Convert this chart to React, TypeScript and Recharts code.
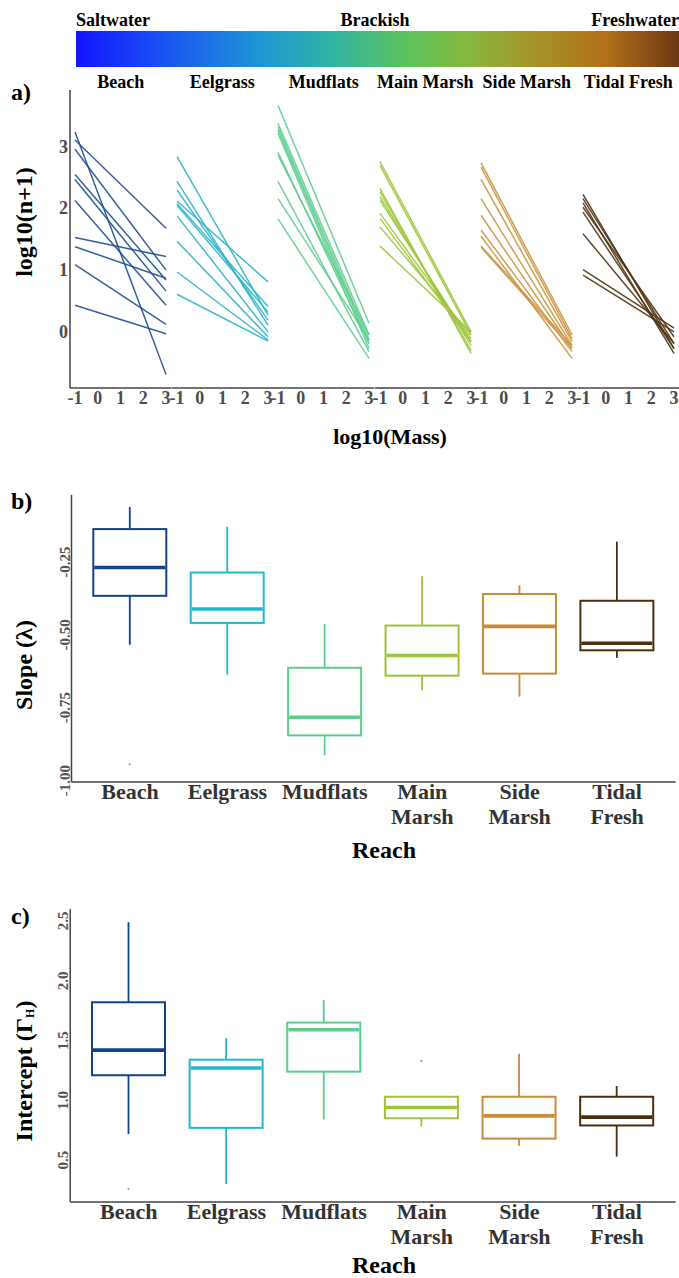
import React from 'react';
import { LineChart, Line, XAxis, YAxis, ComposedChart, Bar } from 'recharts';

const reaches = ['Beach', 'Eelgrass', 'Mudflats', 'Main Marsh', 'Side Marsh', 'Tidal Fresh'];

// panel a: fitted lines, log10(n+1) read at log10(Mass) = -1 and = 3
const massTicks = [-1, 0, 1, 2, 3];
const countTicks = [0, 1, 2, 3];
const beachStart = [3.24, 3.11, 2.96, 2.55, 2.47, 2.13, 1.53, 1.38, 1.09, 0.43];
const beachEnd = [-0.69, 1.68, 1.0, 0.84, 0.66, 0.43, 1.22, 0.87, 0.12, -0.03];
const eelgrassStart = [2.84, 2.44, 2.3, 2.12, 2.08, 2.05, 1.88, 1.47, 0.97, 0.61];
const eelgrassEnd = [0.27, 0.11, 0.19, 0.81, 0.41, 0.32, 0.0, -0.08, -0.13, -0.15];
const mudflatsStart = [3.67, 3.38, 3.32, 3.27, 3.22, 2.91, 2.86, 2.44, 2.16, 1.83];
const mudflatsEnd = [0.14, -0.05, -0.13, -0.19, -0.27, -0.19, -0.05, -0.32, -0.13, -0.43];
const mainMarshStart = [2.76, 2.7, 2.32, 2.27, 2.19, 2.13, 1.92, 1.84, 1.7, 1.39];
const mainMarshEnd = [0.0, -0.05, -0.35, -0.3, -0.22, -0.16, -0.11, -0.16, -0.05, 0.0];
const sideMarshStart = [2.74, 2.67, 2.47, 2.16, 1.89, 1.65, 1.55, 1.39, 1.37];
const sideMarshEnd = [-0.05, -0.11, -0.16, -0.22, -0.27, -0.32, -0.43, -0.22, -0.27];
const tidalStart = [2.23, 2.16, 2.09, 2.02, 1.94, 1.59, 1.01, 0.92];
const tidalEnd = [-0.27, -0.19, -0.35, -0.08, -0.27, -0.19, 0.06, 0.0];

const lineStarts = [beachStart, eelgrassStart, mudflatsStart, mainMarshStart, sideMarshStart, tidalStart];
const lineEnds = [beachEnd, eelgrassEnd, mudflatsEnd, mainMarshEnd, sideMarshEnd, tidalEnd];

// panel b: slope boxplots
const slopeTicks = [-1, -0.75, -0.5, -0.25];
const slopeLow = [-0.534, -0.636, -0.913, -0.69, -0.712, -0.579];
const slopeQ1 = [-0.366, -0.459, -0.845, -0.64, -0.633, -0.553];
const slopeMed = [-0.269, -0.411, -0.783, -0.571, -0.471, -0.529];
const slopeQ3 = [-0.137, -0.286, -0.613, -0.468, -0.36, -0.383];
const slopeHigh = [-0.061, -0.129, -0.462, -0.299, -0.33, -0.18];
const slopeOut = [-0.944, null, null, null, null, null];

// panel c: intercept boxplots
const interTicks = [0.5, 1, 1.5, 2, 2.5];
const interLow = [0.72, 0.3, 0.84, 0.78, 0.62, 0.53];
const interQ1 = [1.21, 0.77, 1.24, 0.85, 0.68, 0.79];
const interMed = [1.42, 1.27, 1.59, 0.94, 0.87, 0.86];
const interQ3 = [1.82, 1.34, 1.65, 1.03, 1.03, 1.03];
const interHigh = [2.49, 1.52, 1.84, 1.03, 1.39, 1.12];
const interOut = [0.26, null, null, 1.33, null, null];

const lineColors = ['#214f8e', '#2fb4c6', '#5fce91', '#9fc63e', '#cc9440', '#4f3414'];
const boxColors = ['#12428a', '#22b9cc', '#5ccd8c', '#9cc43a', '#c98a3a', '#4a2e0e'];
const AXIS = '#444';
const FONT = '"Liberation Serif", "Times New Roman", serif';

const slopeRows = reaches.map((reach, i) => ({
  reach, low: slopeLow[i], q1: slopeQ1[i], med: slopeMed[i], q3: slopeQ3[i], high: slopeHigh[i], out: slopeOut[i],
}));
const interRows = reaches.map((reach, i) => ({
  reach, low: interLow[i], q1: interQ1[i], med: interMed[i], q3: interQ3[i], high: interHigh[i], out: interOut[i],
}));

const Txt = ({ x, y, size, anchor = 'start', fill = '#000', rotate = false, children }: any) => (
  <text
    transform={rotate ? `translate(${x},${y}) rotate(-90)` : `translate(${x},${y})`}
    textAnchor={anchor}
    fontSize={size}
    fontWeight="bold"
    fontFamily={FONT}
    fill={fill}
  >
    {children}
  </text>
);

const MassTick = (p: any) => (
  <Txt x={p.x} y={p.y + 16} size={18} anchor="middle" fill="#4d4d4d">{p.payload.value}</Txt>
);
const CountTick = (p: any) => (
  <Txt x={p.x - 2} y={p.y + 6} size={18} anchor="end" fill="#4d4d4d">{p.payload.value}</Txt>
);
const ReachTick = (p: any) => (
  <g>
    {String(p.payload.value).split(' ').map((w, k) => (
      <Txt key={k} x={p.x} y={p.y + 17 + k * 25} size={22} anchor="middle" fill="#333">{w}</Txt>
    ))}
  </g>
);
const rotTick = (digits: number) => (p: any) => (
  <Txt x={p.x - 2} y={p.y} size={15} anchor="middle" fill="#555" rotate>{Number(p.payload.value).toFixed(digits)}</Txt>
);

function Facet({ i }: { i: number }) {
  const first = i === 0;
  const left = first ? 0 : 70 + i * 101.5;
  const width = first ? 171.5 : 101.5;
  return (
    <div style={{ position: 'absolute', left, top: 90 }}>
      <LineChart width={width} height={328} margin={{ top: 0, right: 0, bottom: 0, left: 0 }}>
        <XAxis
          type="number"
          dataKey="x"
          domain={[-1.22, 3.24]}
          ticks={massTicks}
          interval={0}
          allowDataOverflow
          tickLine={false}
          tickSize={0}
          tickMargin={0}
          height={30}
          tick={MassTick}
          axisLine={{ stroke: AXIS, strokeWidth: 1.5 }}
        />
        <YAxis
          hide={!first}
          type="number"
          width={70}
          domain={[-0.91, 3.92]}
          ticks={countTicks}
          allowDataOverflow
          tickLine={false}
          tickSize={0}
          tickMargin={0}
          tick={CountTick}
          axisLine={{ stroke: AXIS, strokeWidth: 1.5 }}
        />
        {lineStarts[i].map((s, k) => (
          <Line
            key={k}
            data={[{ x: -1, y: s }, { x: 3, y: lineEnds[i][k] }]}
            dataKey="y"
            stroke={lineColors[i]}
            strokeOpacity={0.9}
            strokeWidth={1.5}
            dot={false}
            isAnimationActive={false}
          />
        ))}
      </LineChart>
    </div>
  );
}

const boxShape = (p: any) => {
  const top = Math.min(p.y, p.y + p.height);
  return (
    <rect x={p.x} y={top} width={p.width} height={Math.abs(p.height)} fill="none" stroke={boxColors[p.index]} strokeWidth={2} />
  );
};
const whiskerShape = (p: any) => {
  const cx = p.x + p.width / 2;
  return <line x1={cx} x2={cx} y1={p.y} y2={p.y + p.height} stroke={boxColors[p.index]} strokeWidth={1.8} />;
};
const medianShape = (p: any) => (
  <line x1={p.x + 1} x2={p.x + p.width - 1} y1={p.y} y2={p.y} stroke={boxColors[p.index]} strokeWidth={3.6} />
);
const outlierShape = (p: any) =>
  p.payload.out == null ? <g /> : <circle cx={p.x + p.width / 2} cy={p.y} r={1.1} fill="#9a9a9a" />;

const axisIds = ['box', 'wlo', 'whi', 'med', 'out'];

function BoxPanel({ top, rows, domain, ticks, digits, plotH, yWidth }: any) {
  return (
    <div style={{ position: 'absolute', left: 0, top }}>
      <ComposedChart width={679} height={plotH + 60} data={rows} margin={{ top: 0, right: 3.4, bottom: 0, left: 0 }}>
        {axisIds.map((id, k) => (
          <XAxis
            key={id}
            xAxisId={id}
            type="category"
            dataKey="reach"
            hide={k > 0}
            padding={{ left: 9.8, right: 9.8 }}
            interval={0}
            height={60}
            tickLine={false}
            tickSize={0}
            tickMargin={0}
            tick={ReachTick}
            axisLine={{ stroke: AXIS, strokeWidth: 1.5 }}
          />
        ))}
        <YAxis
          type="number"
          width={yWidth}
          domain={domain}
          ticks={ticks}
          allowDataOverflow
          tickLine={false}
          tickSize={0}
          tickMargin={0}
          tick={rotTick(digits)}
          axisLine={{ stroke: AXIS, strokeWidth: 1.5 }}
        />
        <Bar xAxisId="wlo" dataKey={(d: any) => [d.low, d.q1]} barSize={73} shape={whiskerShape} isAnimationActive={false} />
        <Bar xAxisId="whi" dataKey={(d: any) => [d.q3, d.high]} barSize={73} shape={whiskerShape} isAnimationActive={false} />
        <Bar xAxisId="box" dataKey={(d: any) => [d.q1, d.q3]} barSize={73} shape={boxShape} isAnimationActive={false} />
        <Bar xAxisId="med" dataKey={(d: any) => [d.med, d.med]} barSize={73} shape={medianShape} isAnimationActive={false} />
        <Bar
          xAxisId="out"
          dataKey={(d: any) => (d.out == null ? null : [d.out, d.out])}
          barSize={73}
          shape={outlierShape}
          isAnimationActive={false}
        />
      </ComposedChart>
    </div>
  );
}

const facetCenters = reaches.map((_, i) => 70 + i * 101.5 + 50.75);

export default function App() {
  return (
    <div style={{ position: 'absolute', left: 0, top: 0, width: 679, height: 1278, background: '#fff', fontFamily: FONT }}>
      <style>{'.recharts-surface { overflow: visible; }'}</style>
      {reaches.map((_, i) => (
        <Facet key={i} i={i} />
      ))}
      <BoxPanel top={495} rows={slopeRows} domain={[-1.005, -0.02]} ticks={slopeTicks} digits={2} plotH={287} yWidth={71.5} />
      <BoxPanel top={909} rows={interRows} domain={[0.15, 2.6]} ticks={interTicks} digits={1} plotH={293} yWidth={70.2} />
      <svg width={679} height={1278} style={{ position: 'absolute', left: 0, top: 0, pointerEvents: 'none' }}>
        <defs>
          <linearGradient id="salinity" x1="0" x2="1" y1="0" y2="0">
            <stop offset="0" stopColor="#1414ff" />
            <stop offset="0.15" stopColor="#1a55f2" />
            <stop offset="0.3" stopColor="#1e94d6" />
            <stop offset="0.42" stopColor="#2fb4a6" />
            <stop offset="0.55" stopColor="#5cc35c" />
            <stop offset="0.65" stopColor="#86b83e" />
            <stop offset="0.76" stopColor="#a69428" />
            <stop offset="0.88" stopColor="#b2701a" />
            <stop offset="1" stopColor="#6a3812" />
          </linearGradient>
        </defs>
        <rect x={76} y={31} width={603} height={36} fill="url(#salinity)" />
        <Txt x={76} y={26} size={18}>Saltwater</Txt>
        <Txt x={375} y={26} size={18} anchor="middle">Brackish</Txt>
        <Txt x={679} y={26} size={18} anchor="end">Freshwater</Txt>
        {reaches.map((r, i) => (
          <Txt key={r} x={facetCenters[i]} y={88} size={18} anchor="middle">{r}</Txt>
        ))}
        <Txt x={11} y={100} size={24}>a)</Txt>
        <Txt x={11} y={509} size={24}>b)</Txt>
        <Txt x={11} y={924} size={24}>c)</Txt>
        <Txt x={32} y={222} size={24} anchor="middle" rotate>log10(n+1)</Txt>
        <Txt x={390} y={444} size={22} anchor="middle">log10(Mass)</Txt>
        <Txt x={32} y={665} size={24} anchor="middle" rotate>Slope (λ)</Txt>
        <Txt x={384} y={858} size={24} anchor="middle">Reach</Txt>
        <Txt x={32} y={1071} size={24} anchor="middle" rotate>
          Intercept (Γ<tspan fontSize={12} dy={2}>H</tspan><tspan dy={-2}>)</tspan>
        </Txt>
        <Txt x={384} y={1273} size={24} anchor="middle">Reach</Txt>
      </svg>
    </div>
  );
}
